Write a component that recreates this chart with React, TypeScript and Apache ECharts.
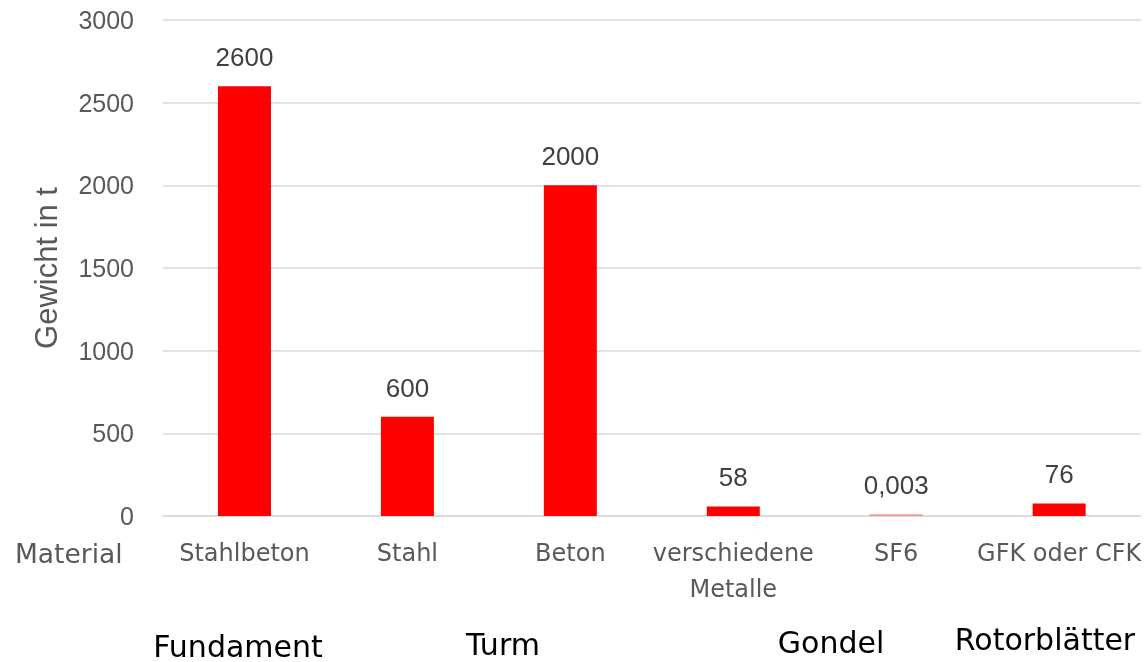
import React, { useEffect, useRef } from "react";
import * as echarts from "echarts";

const categories = ["Stahlbeton", "Stahl", "Beton", "verschiedene\nMetalle", "SF6", "GFK oder CFK"];
const values = [2600, 600, 2000, 58, 0.003, 76];
const yTicks = { min: 0, max: 3000, interval: 500 };
const groups = ["Fundament", "Turm", "Gondel", "Rotorblätter"];
const groupPos = [
  { x: 238, y: 646 },
  { x: 503, y: 644 },
  { x: 831, y: 642 },
  { x: 1045, y: 639 },
];

const SANS = "Liberation Sans";
const GEO = "DejaVu Sans";

export default function App() {
  const ref = useRef<HTMLDivElement>(null);
  useEffect(() => {
    if (!ref.current) return;
    const chart = echarts.init(ref.current, undefined, { renderer: "svg" });
    chart.setOption({
      animation: false,
      textStyle: { fontFamily: SANS },
      grid: { left: 163, right: 0, top: 20, bottom: 146 },
      xAxis: {
        type: "category",
        data: categories,
        axisLine: { show: true, lineStyle: { color: "#d9d9d9", width: 1.5 } },
        axisTick: { show: false },
        axisLabel: {
          interval: 0,
          color: "#595959",
          fontSize: 24,
          fontFamily: GEO,
          lineHeight: 36,
          margin: 19,
        },
      },
      yAxis: {
        type: "value",
        min: yTicks.min,
        max: yTicks.max,
        interval: yTicks.interval,
        name: "Gewicht in t",
        nameLocation: "middle",
        nameGap: 101,
        nameRotate: 90,
        nameTextStyle: { color: "#595959", fontSize: 31, fontFamily: SANS },
        axisLine: { show: false },
        axisTick: { show: false },
        axisLabel: {
          color: "#595959",
          fontSize: 25,
          fontFamily: SANS,
          margin: 29,
          formatter: (v: number) => String(v),
        },
        splitLine: { lineStyle: { color: "#d9d9d9", width: 1.5 } },
      },
      series: [
        {
          type: "bar",
          barWidth: 53,
          barMinHeight: 2,
          data: values.map((v) =>
            v < 1 ? { value: v, itemStyle: { color: "#ff0000", opacity: 0.3 } } : { value: v }
          ),
          itemStyle: { color: "#ff0000" },
          label: {
            show: true,
            position: "top",
            distance: 16,
            color: "#404040",
            fontSize: 26,
            fontFamily: SANS,
            opacity: 1,
            formatter: (p: any) => String(p.value).replace(".", ","),
          },
        },
      ],
      graphic: [
        {
          type: "text",
          x: 15,
          y: 553,
          style: {
            text: "Material",
            fill: "#595959",
            fontSize: 26.5,
            fontFamily: GEO,
            verticalAlign: "middle",
          },
        },
        ...groups.map((g, i) => ({
          type: "text",
          x: groupPos[i].x,
          y: groupPos[i].y,
          style: {
            text: g,
            fill: "#000000",
            fontSize: 30,
            fontFamily: GEO,
            align: "center",
            verticalAlign: "middle",
          },
        })),
      ],
    });
    return () => chart.dispose();
  }, []);
  return (
    <div
      ref={ref}
      style={{ position: "fixed", left: 0, top: 0, width: 1144, height: 662 }}
    />
  );
}
